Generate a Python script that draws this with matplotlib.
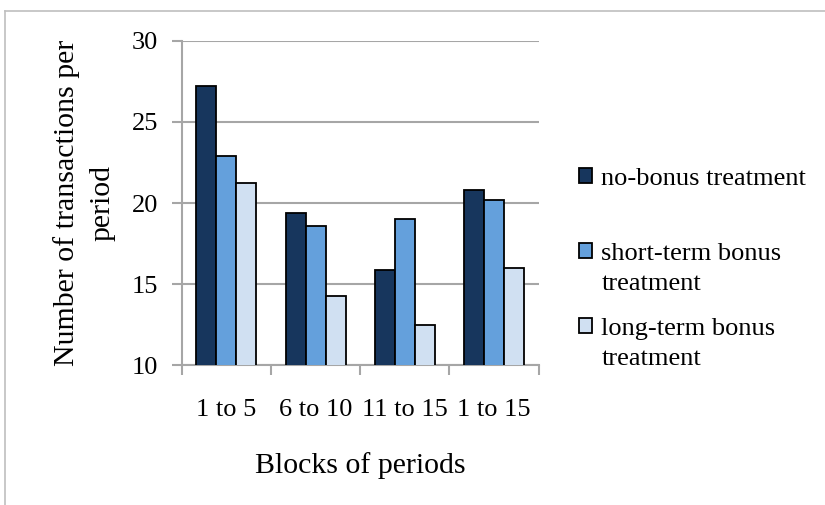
import matplotlib.pyplot as plt
import numpy as np

blocks = ['1 to 5', '6 to 10', '11 to 15', '1 to 15']
no_bonus = [27.2, 19.4, 15.9, 20.8]
short_term = [22.9, 18.6, 19.0, 20.2]
long_term = [21.25, 14.25, 12.5, 16.0]
series = ['no-bonus treatment\n', 'short-term bonus\ntreatment', 'long-term bonus\ntreatment']
colors = ['#17365D', '#64A0DC', '#D0E0F2']

plt.rcParams['font.family'] = ['Liberation Serif', 'DejaVu Serif']

fig = plt.figure(figsize=(8.25, 5.05), dpi=100)
ax = fig.add_axes([0.2203, 0.2766, 0.4327, 0.6428])

x = np.arange(len(blocks))
w = 0.224
for i, vals in enumerate([no_bonus, short_term, long_term]):
    ax.bar(x + (i - 1) * w, vals, w, color=colors[i], edgecolor='black',
           linewidth=1.3, label=series[i], zorder=3)

ax.set_ylim(10, 30)
ax.set_xlim(-0.5, 3.5)
ax.set_yticks([10, 15, 20, 25, 30])
ax.yaxis.grid(True, color='#A6A6A6', linewidth=1.5, zorder=0)
ax.set_xticks(x)
ax.set_xticklabels(blocks)
ax.set_xticks(np.arange(-0.5, 4, 1), minor=True)
ax.tick_params(axis='x', which='major', length=0, pad=24.5, labelsize=19)
ax.tick_params(axis='x', which='minor', length=7, color='#A6A6A6', width=1.5)
ax.tick_params(axis='y', length=7, color='#A6A6A6', width=1.5, pad=10, labelsize=19)
for s in ['top', 'right']:
    ax.spines[s].set_visible(False)
for s in ['left', 'bottom']:
    ax.spines[s].set_color('#A6A6A6')
    ax.spines[s].set_linewidth(1.5)

ax.set_xlabel('Blocks of periods', fontsize=21.5, labelpad=22)
ax.set_ylabel('Number of transactions per\nperiod', fontsize=21.5, labelpad=12,
              linespacing=1.45)

leg = ax.legend(loc='upper left', bbox_to_anchor=(0.702, 1 - 168 / 505),
                bbox_transform=fig.transFigure, frameon=False, borderpad=0,
                borderaxespad=0, fontsize=19, handlelength=0.48, handleheight=0.48,
                handletextpad=0.36, labelspacing=0.85)
for t in leg.get_texts():
    t.set_linespacing(1.5)
# put the key next to the first line of each entry, as Excel does
for col in leg._legend_handle_box.get_children():
    for row in col.get_children():
        row.align = 'top'

# outer chart frame
fig.add_artist(plt.Line2D([0.006, 1.0], [0.978, 0.978], transform=fig.transFigure,
                          color='#BFBFBF', linewidth=1.2))
fig.add_artist(plt.Line2D([0.006, 0.006], [0.0, 0.978], transform=fig.transFigure,
                          color='#BFBFBF', linewidth=1.2))

fig.savefig('out.png', dpi=100)
